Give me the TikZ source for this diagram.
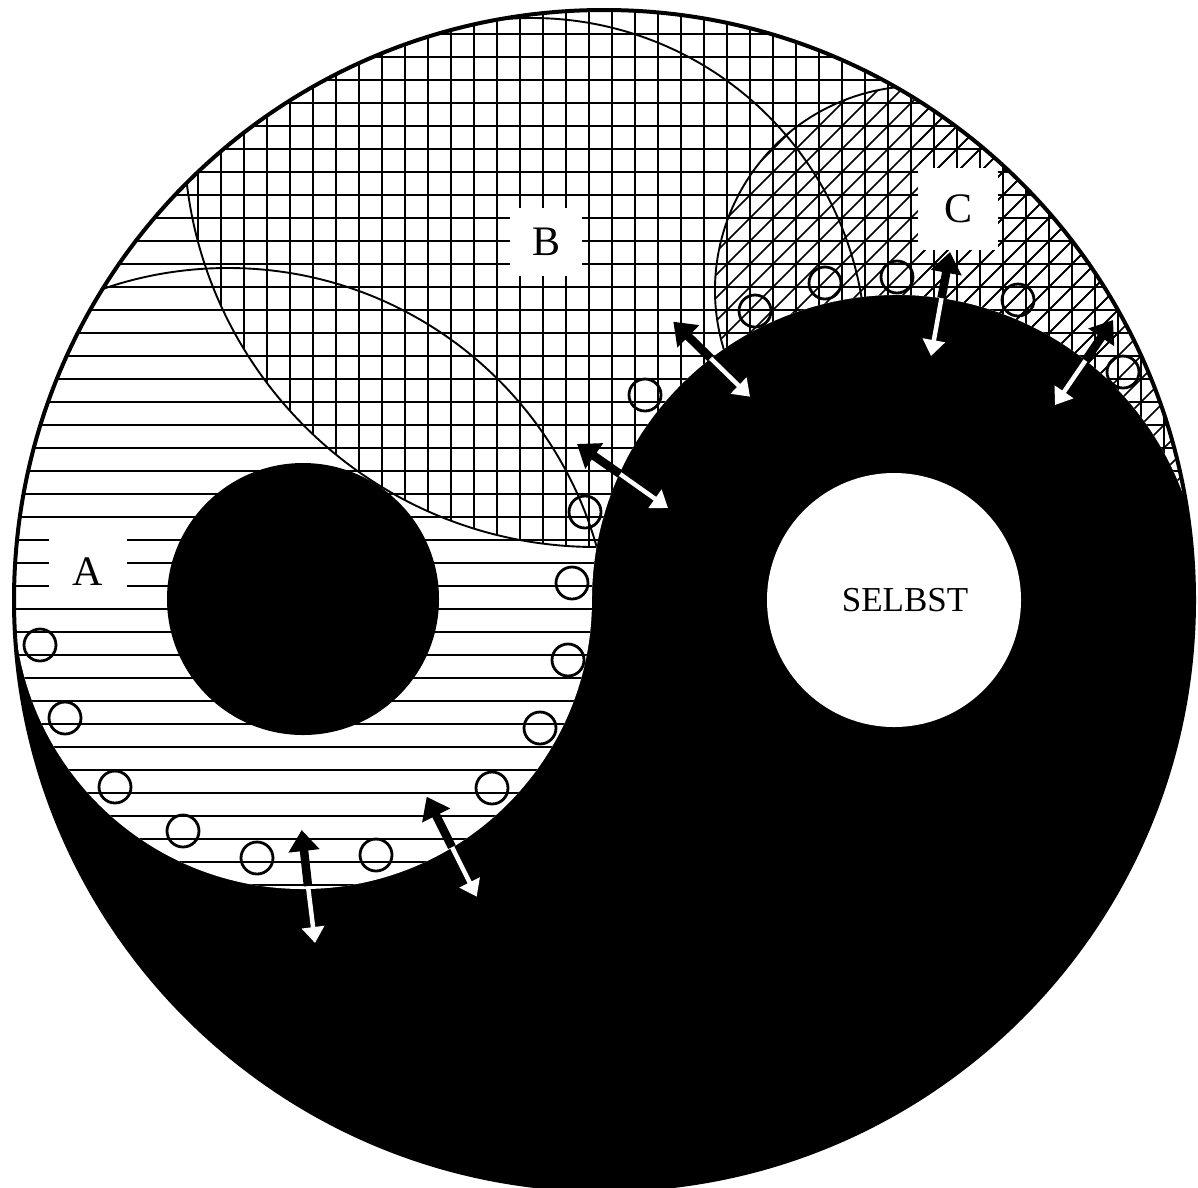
\documentclass[tikz,border=0pt]{standalone}
\usepackage{fontspec}
\setmainfont{Liberation Serif}
\usetikzlibrary{arrows.meta}
\begin{document}
\begin{tikzpicture}[x=1pt,y=-1pt,
  hatch/.style={line width=2, black},
  diag/.style={line width=1.7, black},
  outline/.style={line width=1.9, black},
  ring/.style={circle, draw=black, line width=2.8, minimum size=32pt, inner sep=0pt},
  blackarr/.style={line width=8.5, black, -{Triangle[width=30pt,length=21pt]}},
  whitearr/.style={line width=4.5, white, -{Triangle[width=22pt,length=16pt]}},
  lbl/.style={fill=white, inner sep=0pt, font=\fontsize{42}{42}\selectfont}
]
\useasboundingbox (0,0) rectangle (1198,1187);
\fill[white] (0,0) rectangle (1198,1187);
\def\whitepath{(14,600) arc[start angle=180, end angle=350.43, radius=590] arc[start angle=-18.76, end angle=-180, radius=305] arc[start angle=0, end angle=180, radius=289] -- cycle}
% black disc and white (hatched) part
\fill[black] (604,600) circle[radius=590];
\fill[white] \whitepath;
\begin{scope}
  \clip \whitepath;
  % horizontal lines everywhere
  \foreach \k in {-25,...,14} \draw[hatch] (0,{563+23*\k}) -- (1198,{563+23*\k});
  % vertical lines: B and to its right
  \begin{scope}
    \clip (596,135) circle[radius=412];
    \foreach \k in {-10,...,35} \draw[hatch] ({405+23*\k},0) -- ({405+23*\k},640);
  \end{scope}
  \begin{scope}
    \clip (596,0) rectangle (1198,547);
    \foreach \k in {9,...,35} \draw[hatch] ({405+23*\k},0) -- ({405+23*\k},640);
  \end{scope}
  % diagonal lines: C and to its right
  \begin{scope}
    \clip (919,290) circle[radius=204];
    \foreach \k in {-12,...,33} \draw[diag] ({1068+23*\k},-100) -- ({68+23*\k},900);
  \end{scope}
  \begin{scope}
    \clip (919,0) rectangle (1198,700);
    \foreach \k in {-12,...,33} \draw[diag] ({1068+23*\k},-100) -- ({68+23*\k},900);
  \end{scope}
  % outlines of the regions
  \draw[outline] (228,651) circle[radius=383];
  \begin{scope}
    \clip (0,0) rectangle (596,1187);
    \draw[outline] (596,135) circle[radius=412];
  \end{scope}
  \draw[outline] ([shift={(-100:334)}]532,352) arc[start angle=-100, end angle=0, radius=334];
  \draw[outline] ([shift={(155:204)}]919,290) arc[start angle=155, end angle=280, radius=204];
\end{scope}
% dots
\fill[black] (303,599) circle[radius=136];
\fill[white] (894,600) circle[radius=127];
\node[font=\fontsize{35}{35}\selectfont, inner sep=0pt] (selbst) at (905,600) {SELBST};
% small rings along the border
\node[ring] (r1) at (40,645) {};
\node[ring] (r2) at (65,718) {};
\node[ring] (r3) at (115,787) {};
\node[ring] (r4) at (183,831) {};
\node[ring] (r5) at (257,858) {};
\node[ring] (r6) at (376,855) {};
\node[ring] (r7) at (492,788) {};
\node[ring] (r8) at (540,728) {};
\node[ring] (r9) at (568,660) {};
\node[ring] (r10) at (572,583) {};
\node[ring] (r11) at (585,512) {};
\node[ring] (r12) at (645,395) {};
\node[ring] (r13) at (755,311) {};
\node[ring] (r14) at (825,283) {};
\node[ring] (r15) at (897,277) {};
\node[ring] (r16) at (1018,300) {};
\node[ring] (r17) at (1123,372) {};
% double arrows across the border
\coordinate (a1k) at (301.7,830); \coordinate (a1m) at (308,886); \coordinate (a1w) at (315,943);
\coordinate (a2k) at (426.7,796.7); \coordinate (a2m) at (452,847); \coordinate (a2w) at (476.7,896.7);
\coordinate (a3k) at (577,444); \coordinate (a3m) at (620,474); \coordinate (a3w) at (668,508);
\coordinate (a4k) at (673.3,321.7); \coordinate (a4m) at (710.5,358.1); \coordinate (a4w) at (750,396.7);
\coordinate (a5k) at (950,252); \coordinate (a5m) at (941.5,298); \coordinate (a5w) at (931,356);
\coordinate (a6k) at (1113,320); \coordinate (a6m) at (1085.5,360.4); \coordinate (a6w) at (1055,405);
\foreach \i in {1,...,6} {
  \draw[whitearr] (a\i m) -- (a\i w);
  \draw[blackarr] (a\i m) -- (a\i k);
}
% labels
\node[lbl, minimum width=78pt, minimum height=72pt] (labA) at (88,572) {A};
\node[lbl, minimum width=72pt, minimum height=68pt] (labB) at (546,242) {B};
\node[lbl, minimum width=80pt, minimum height=82pt] (labC) at (958,209) {C};
% outer circle
\draw[line width=4] (604,600) circle[radius=590];
\end{tikzpicture}
\end{document}
